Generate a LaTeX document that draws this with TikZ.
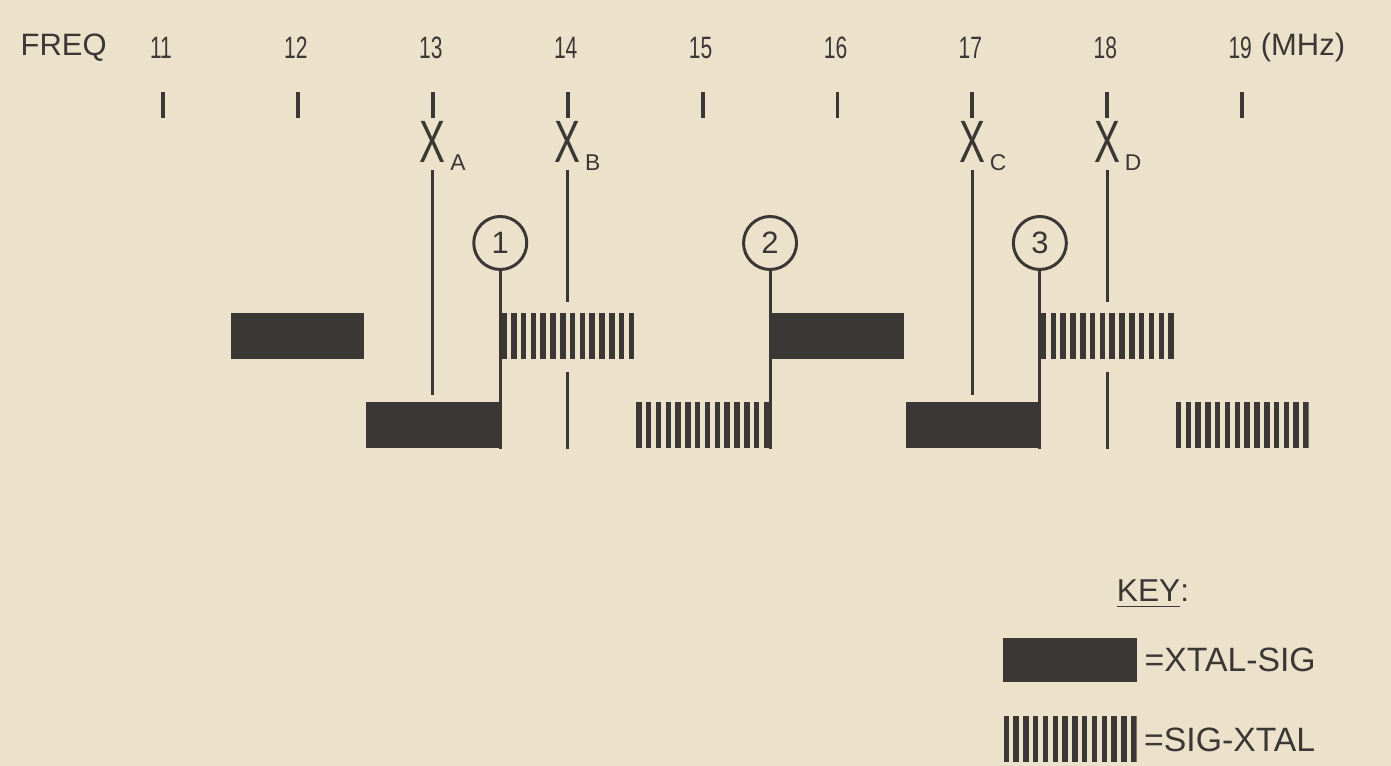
\documentclass[tikz,border=0pt]{standalone}
\usepackage{fontspec}
\setmainfont{Liberation Sans}
\usepackage{tikz}
\usetikzlibrary{positioning,calc}
\usepackage{xcolor}
\definecolor{paper}{RGB}{236,226,204}
\definecolor{ink}{RGB}{58,55,52}

\begin{document}
\begin{tikzpicture}[
  font=\fontsize{8.8}{10}\selectfont,
  ink,
  tick/.style={line width=1.1pt},
  lead/.style={line width=0.85pt},
  xsig/.style={fill=ink, minimum width=13.3mm, minimum height=4.6mm, inner sep=0pt},
  sigx/.style={minimum width=13.3mm, minimum height=4.6mm, inner sep=0pt,
               path picture={\foreach \k in {0,...,13}
                 \fill[ink] ($(path picture bounding box.south west)+(\k*0.0981,0)$)
                   rectangle ++(0.055,0.46);}},
  xtal/.style={inner sep=0pt, font=\fontsize{17}{17}\selectfont},
  xsub/.style={inner sep=0pt, font=\fontsize{6.5}{7}\selectfont},
  mix/.style={draw, circle, line width=0.85pt, minimum size=5.3mm, inner sep=0pt},
  keytxt/.style={inner sep=0pt, font=\fontsize{9.6}{11}\selectfont},
]
  % ── Paper ──
  \fill[paper] (0,0) rectangle (13.91,-7.66);

  % ── Frequency scale ──
  \node[anchor=west, inner sep=0pt] (freq) at (0.20,-0.48) {FREQ};
  \foreach \f in {11,...,19} {
    \node[inner sep=0pt] (n\f) at ({1.61+1.349*(\f-11)},-0.48) {\scalebox{0.68}[1]{\f}};
    \draw[tick] ({1.63+1.349*(\f-11)},-0.92) -- ++(0,-0.26);
  }
  \node[inner sep=0pt] (mhz) at (13.03,-0.48) {(MHz)};

  % ── Crystal frequencies ──
  \foreach \f/\c in {13/A,14/B,17/C,18/D} {
    \node[xtal] (x\c) at ({1.63+1.349*(\f-11)},-1.415) {\scalebox{0.65}[1]{X}};
    \node[xsub, anchor=west] (x\c s) at ([xshift=0.9pt]x\c.south east) {\c};
  }

  % ── Mixing products: upper and lower rows ──
  \foreach \f/\s/\y in {12/xsig/-3.365, 13/xsig/-4.255, 14/sigx/-3.365, 15/sigx/-4.255,
                        16/xsig/-3.365, 17/xsig/-4.255, 18/sigx/-3.365, 19/sigx/-4.255}
    \node[\s] (b\f) at ({1.63+1.349*(\f-11)},\y) {};

  % ── Numbered circles ──
  \foreach \n/\f in {1/13.5, 2/15.5, 3/17.5}
    \node[mix] (m\n) at ({1.63+1.349*(\f-11)},-2.43) {\n};

  % ── Leads from crystals ──
  \draw[lead] ([yshift=-2pt]xA.south) -- ([yshift=2pt]xA |- b13.north);
  \draw[lead] ([yshift=-2pt]xB.south) -- ([yshift=3pt]xB |- b14.north);
  \draw[lead] ([yshift=-3.5pt]xB |- b14.south) -- (xB |- b15.south);
  \draw[lead] ([yshift=-2pt]xC.south) -- ([yshift=2pt]xC |- b17.north);
  \draw[lead] ([yshift=-2pt]xD.south) -- ([yshift=3pt]xD |- b18.north);
  \draw[lead] ([yshift=-3.5pt]xD |- b18.south) -- (xD |- b19.south);

  % ── Leads from circles ──
  \draw[lead] (m1.south) -- (m1 |- b13.south);
  \draw[lead] (m2.south) -- (m2 |- b15.south);
  \draw[lead] (m3.south) -- (m3 |- b17.south);

  % ── Key ──
  \node[font=\fontsize{9}{10}\selectfont] (key) at (11.53,-5.94) {\underline{KEY}:};
  \node[xsig, minimum width=13.4mm, minimum height=4.4mm] (kx) at (10.70,-6.60) {};
  \node[keytxt, right=1.8pt of kx] (kxl) {=XTAL-SIG};
  \node[sigx] (ks) at (10.70,-7.395) {};
  \node[keytxt, right=1.8pt of ks] (ksl) {=SIG-XTAL};
\end{tikzpicture}
\end{document}
